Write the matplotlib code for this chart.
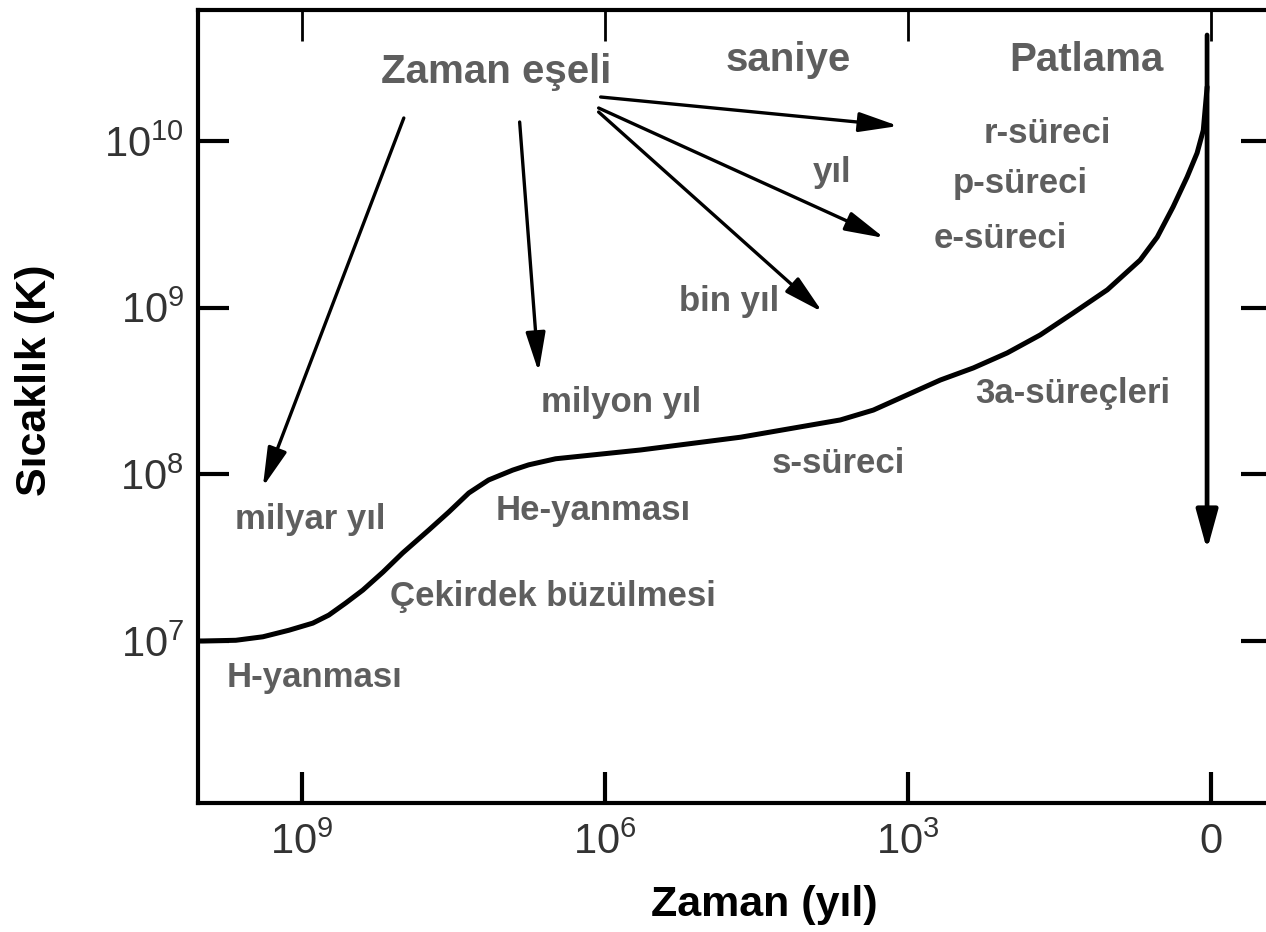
import matplotlib
matplotlib.use("Agg")
import matplotlib.pyplot as plt
import numpy as np

plt.rcParams['font.family'] = ['Liberation Sans', 'DejaVu Sans']
plt.rcParams['mathtext.fontset'] = 'custom'
plt.rcParams['mathtext.rm'] = 'Liberation Sans'
plt.rcParams['mathtext.it'] = 'Liberation Sans'

# time before the explosion (years) and central temperature (K)
time_years = [1.07e10, 9.57e9, 4.52e9, 2.44e9, 1.35e9, 7.82e8, 5.43e8, 3.69e8,
              2.50e8, 1.58e8, 1.01e8, 5.56e7, 3.52e7, 2.23e7, 1.42e7, 8.2e6,
              5.7e6, 3.08e6, 4.45e5, 4.55e4, 4.67e3, 2.20e3, 478, 225, 104,
              49, 23.1, 10.6, 5.02, 3.40, 2.37, 1.72, 1.37, 1.19, 1.09]
temperature_k = [1.0e7, 1.0e7, 1.01e7, 1.06e7, 1.16e7, 1.28e7, 1.43e7, 1.69e7,
                 2.02e7, 2.59e7, 3.37e7, 4.63e7, 5.94e7, 7.73e7, 9.25e7, 1.06e8,
                 1.14e8, 1.24e8, 1.40e8, 1.67e8, 2.12e8, 2.43e8, 3.68e8, 4.35e8,
                 5.35e8, 6.86e8, 9.29e8, 1.28e9, 1.93e9, 2.65e9, 4.02e9, 6.08e9,
                 8.47e9, 1.16e10, 2.11e10]

x_ticks = [1e9, 1e6, 1e3, 1]
x_tick_labels = ['$10^{9}$', '$10^{6}$', '$10^{3}$', '0']
y_ticks = [1e7, 1e8, 1e9, 1e10]
y_tick_labels = ['$10^{7}$', '$10^{8}$', '$10^{9}$', '$10^{10}$']

# stage labels: (text, log10 years, log10 K)
labels = [
    ('r-süreci', 1.62, 10.048),
    ('yıl', 3.749, 9.814),
    ('p-süreci', 1.888, 9.742),
    ('e-süreci', 2.086, 9.418),
    ('bin yıl', 4.766, 9.034),
    ('milyon yıl', 5.845, 8.428),
    ('3a-süreçleri', 1.363, 8.488),
    ('s-süreci', 3.688, 8.068),
    ('He-yanması', 6.113, 7.786),
    ('milyar yıl', 8.922, 7.732),
    ('Çekirdek büzülmesi', 6.519, 7.270),
    ('H-yanması', 8.873, 6.784),
]
headers = [
    ('Zaman eşeli', 7.082, 10.414),
    ('saniye', 4.183, 10.486),
    ('Patlama', 1.234, 10.486),
]
# arrows from the time-scale label: (start log t, start log T, end log t, end log T)
arrows = [
    (7.992, 10.138, 9.388, 7.924),
    (6.845, 10.114, 6.657, 8.614),
    (6.043, 10.264, 3.095, 10.090),
    (6.063, 10.198, 3.233, 9.418),
    (6.063, 10.174, 3.847, 8.974),
]

W, H = 1266, 932
fig = plt.figure(figsize=(W / 100, H / 100), dpi=100)
ax = fig.add_axes([198 / W, 1 - 803 / H, (1272 - 198) / W, (803 - 10) / H])

ax.plot(time_years, temperature_k, color='black', lw=3.6,
        solid_joinstyle='round', solid_capstyle='round')

ax.set_xscale('log')
ax.set_yscale('log')
ax.set_xlim(10 ** 10.03, 10 ** -0.605)
ax.set_ylim(10 ** 6.028, 10 ** 10.786)

ax.set_xticks(x_ticks)
ax.set_xticklabels(x_tick_labels)
ax.set_yticks(y_ticks)
ax.set_yticklabels(y_tick_labels)
ax.minorticks_off()
ax.tick_params(direction='in', length=22, width=3, labelsize=30,
               labelcolor='#333333', top=True, right=True, pad=14)
ax.tick_params(axis='y', pad=10)
for s in ax.spines.values():
    s.set_linewidth(3)
for t in ax.xaxis.get_major_ticks():
    t.tick2line.set_markeredgewidth(2)

grey = '#5e5e5e'
for txt, lt, lT in labels:
    ax.text(10 ** lt, 10 ** lT, txt, fontsize=25, fontweight='bold',
            color=grey, ha='center', va='center')
for txt, lt, lT in headers:
    ax.text(10 ** lt, 10 ** lT, txt, fontsize=29, fontweight='bold',
            color=grey, ha='center', va='center')

arrow_style = dict(arrowstyle='-|>,head_length=0.8,head_width=0.2',
                   color='black', lw=2.4, shrinkA=0, shrinkB=0,
                   mutation_scale=30)
for x0, y0, x1, y1 in arrows:
    ax.annotate('', xy=(10 ** x1, 10 ** y1), xytext=(10 ** x0, 10 ** y0),
                arrowprops=arrow_style)

# explosion: drop from the peak
ax.annotate('', xy=(10 ** 0.038, 10 ** 7.546), xytext=(10 ** 0.038, 10 ** 10.636),
            arrowprops=dict(arrowstyle='-|>,head_length=0.8,head_width=0.22',
                            color='black', lw=3.4, shrinkA=0, shrinkB=0,
                            mutation_scale=30))

fig.text(35 / W, 1 - 380 / H, 'Sıcaklık (K)', rotation=90, fontsize=31,
         fontweight='bold', ha='center', va='center')
fig.text(764 / W, 1 - 905 / H, 'Zaman (yıl)', fontsize=31,
         fontweight='bold', ha='center', va='center')

fig.savefig('out.png', dpi=100)
